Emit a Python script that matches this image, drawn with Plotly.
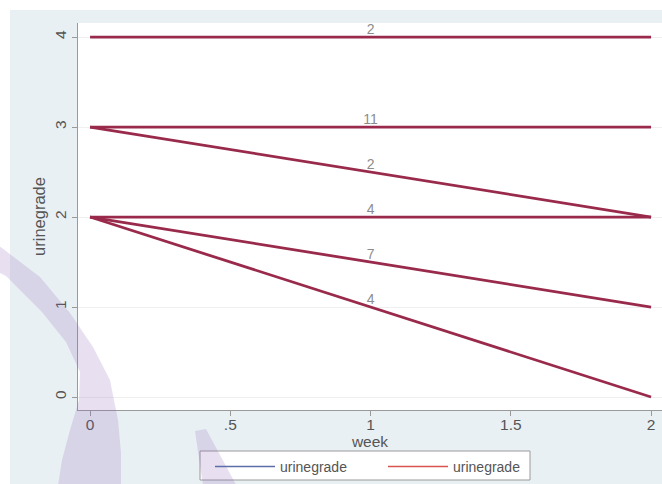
import plotly.graph_objects as go

# urine grade at the start (week 0) and end (week 2), with number of subjects per path
weeks = [0, 2]
grade_start = [4, 3, 3, 2, 2, 2]
grade_end = [4, 3, 2, 2, 1, 0]
counts = [2, 11, 2, 4, 7, 4]
x_ticks = [0, 0.5, 1, 1.5, 2]
x_tick_text = ["0", ".5", "1", "1.5", "2"]
y_ticks = [0, 1, 2, 3, 4]

W, H = 662, 484
M_L, M_R, M_T, M_B = 78, 0, 23, 74
PW, PH = W - M_L - M_R, H - M_T - M_B

FONT = "Liberation Sans, Arial, sans-serif"
LINE = "#992a4b"
PANEL = "#e9f0f3"
WATERMARK = "rgba(140,100,180,0.20)"


def px(xp, yp):
    """pixel position -> paper coordinates"""
    return (xp - M_L) / PW, (H - M_B - yp) / PH


def poly(points):
    pts = [px(a, b) for a, b in points]
    return "M" + " L".join(f"{x},{y}" for x, y in pts) + " Z"


# segment paths for the line trace
seg_x, seg_y = [], []
for a, b in zip(grade_start, grade_end):
    seg_x += [weeks[0], weeks[1], None]
    seg_y += [a, b, None]

mid_x = [(weeks[0] + weeks[1]) / 2 for _ in counts]
mid_y = [(a + b) / 2 for a, b in zip(grade_start, grade_end)]

fig = go.Figure()

fig.add_trace(go.Scatter(
    x=seg_x, y=seg_y, mode="lines",
    line=dict(color=LINE, width=2.8),
    showlegend=False, hoverinfo="skip",
))

fig.add_trace(go.Scatter(
    x=mid_x, y=mid_y, mode="text",
    text=[str(c) for c in counts], textposition="top center",
    textfont=dict(family=FONT, size=14, color="#8c8c8c"),
    showlegend=False, hoverinfo="skip",
))

# legend keys
fig.add_trace(go.Scatter(x=[None], y=[None], mode="lines", name="urinegrade",
                         line=dict(color="#5b6ea8", width=1.5)))
fig.add_trace(go.Scatter(x=[None], y=[None], mode="lines", name="urinegrade",
                         line=dict(color="#d9534f", width=1.5)))

shapes = []
# graph region panel and white plot region
x0, y0 = px(10, 10)
x1, y1 = px(W + 2, H + 2)
shapes.append(dict(type="rect", xref="paper", yref="paper", x0=x0, y0=y0, x1=x1, y1=y1,
                   fillcolor=PANEL, line=dict(width=0), layer="below"))
shapes.append(dict(type="rect", xref="paper", yref="paper", x0=0, y0=0, x1=1, y1=1,
                   fillcolor="white", line=dict(width=0), layer="below"))

# legend frame
LEG_L, LEG_R, LEG_T, LEG_B = 200, 530, 451, 480
lx0, ly0 = px(LEG_L, LEG_B)
lx1, ly1 = px(LEG_R, LEG_T)
shapes.append(dict(type="rect", xref="paper", yref="paper", x0=lx0, y0=ly0, x1=lx1, y1=ly1,
                   fillcolor="white", line=dict(color="#9a9a9a", width=1), layer="above"))

# decorative purple crescents
crescent = [(-6, 242), (40, 277), (70, 313), (93, 347), (110, 380), (118, 420),
            (121, 453), (121, 492), (57, 492), (62, 460), (70, 430), (79, 400),
            (80, 372), (66, 342), (42, 312), (6, 276), (-6, 270)]
shapes.append(dict(type="path", xref="paper", yref="paper", path=poly(crescent),
                   fillcolor=WATERMARK, line=dict(width=0), layer="above"))
sliver = [(195, 431), (206, 429), (240, 492), (204, 492)]
shapes.append(dict(type="path", xref="paper", yref="paper", path=poly(sliver),
                   fillcolor=WATERMARK, line=dict(width=0), layer="above"))

leg_x, leg_y = px(LEG_L + 10, LEG_T)

fig.update_layout(
    width=W, height=H,
    margin=dict(l=M_L, r=M_R, t=M_T, b=M_B),
    paper_bgcolor="white",
    plot_bgcolor="rgba(0,0,0,0)",
    font=dict(family=FONT, color="#444"),
    shapes=shapes,
    showlegend=True,
    legend=dict(
        orientation="h", x=leg_x, y=leg_y, xanchor="left", yanchor="top",
        bgcolor="rgba(0,0,0,0)", borderwidth=0,
        font=dict(family=FONT, size=14, color="#555"),
        itemwidth=60, entrywidth=98, tracegroupgap=0,
    ),
    xaxis=dict(
        range=[-0.043, 2.039], tickvals=x_ticks, ticktext=x_tick_text,
        showgrid=False, zeroline=False,
        showline=True, linecolor="#9a9a9a", linewidth=1.2,
        ticks="outside", ticklen=5, tickcolor="#9a9a9a",
        ticklabelstandoff=-5,
        tickfont=dict(family=FONT, size=15.5, color="#555"),
        title=dict(text="week", font=dict(family=FONT, size=15.5, color="#555"), standoff=0),
    ),
    yaxis=dict(
        range=[-0.144, 4.156], tickvals=y_ticks, tickangle=-90,
        showgrid=True, gridcolor="#efefef", gridwidth=1, zeroline=False,
        showline=True, linecolor="#9a9a9a", linewidth=1.2,
        ticks="outside", ticklen=5, tickcolor="#9a9a9a",
        tickfont=dict(family=FONT, size=15.5, color="#555"),
        title=dict(text="urinegrade", font=dict(family=FONT, size=16.5, color="#555"), standoff=1),
    ),
)

fig.write_html("out.html")
